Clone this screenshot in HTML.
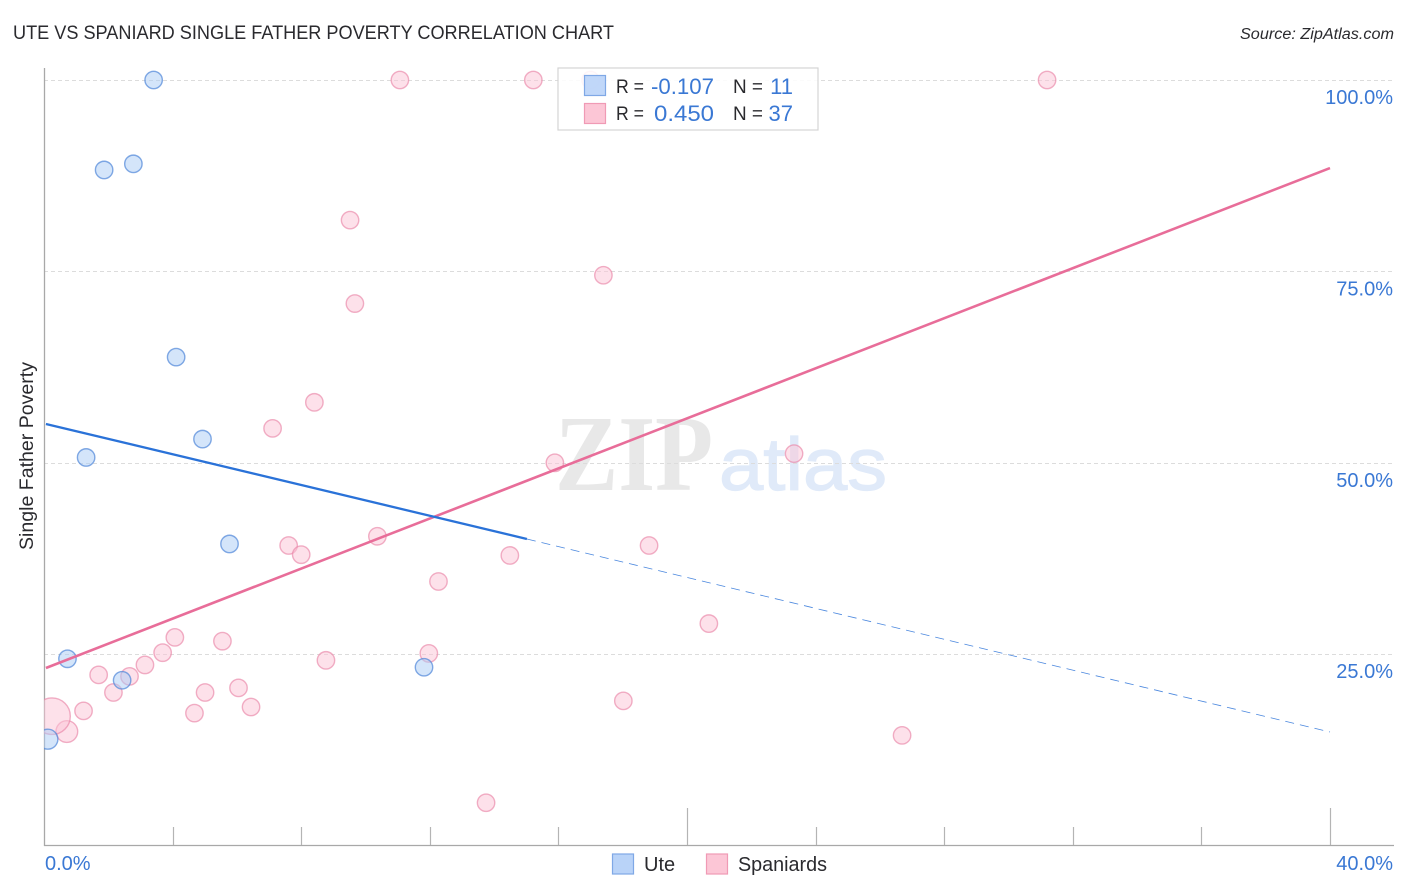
<!DOCTYPE html>
<html lang="en">
<head>
<meta charset="utf-8">
<title>Ute vs Spaniard Single Father Poverty Correlation Chart</title>
<style>
html,body{margin:0;padding:0;background:#fff;}
svg{display:block;font-family:"Liberation Sans",sans-serif;}
</style>
</head>
<body>
<svg id="chart" xmlns="http://www.w3.org/2000/svg" width="1406" height="892" viewBox="0 0 1406 892">
  <defs><clipPath id="plot-clip"><rect x="44" y="60" width="1350" height="786"/></clipPath></defs>
  <text x="13" y="39" font-size="19" fill="#2a2a2e" textLength="601" lengthAdjust="spacingAndGlyphs">UTE VS SPANIARD SINGLE FATHER POVERTY CORRELATION CHART</text>
  <text x="1394" y="39" font-size="15.5" font-style="italic" fill="#2a2a2e" text-anchor="end" textLength="154" lengthAdjust="spacingAndGlyphs">Source: ZipAtlas.com</text>
  <text x="555" y="490" font-family="'Liberation Serif',serif" font-size="108" font-weight="bold" fill="#e8e8e8" textLength="158" lengthAdjust="spacingAndGlyphs">ZIP</text>
  <text x="719" y="490" font-size="74" fill="#e0eaf9" stroke="#e0eaf9" stroke-width="1.2" textLength="168" lengthAdjust="spacingAndGlyphs">atlas</text>
  <g id="grid"></g>
  <g id="axes"></g>
  <g id="points" clip-path="url(#plot-clip)"></g>
  <g id="trends" clip-path="url(#plot-clip)"></g>
  <g id="labels"></g>
  <text transform="translate(33,456) rotate(-90)" font-size="19" fill="#2a2a2e" text-anchor="middle" textLength="188" lengthAdjust="spacingAndGlyphs">Single Father Poverty</text>

  <g>
    <rect x="558" y="68" width="260" height="62" fill="#fff" fill-opacity="0.88" stroke="#d4d4d4" stroke-width="1.2"/>
    <rect x="584.5" y="75.5" width="21" height="20" fill="#b9d3f8" fill-opacity="0.9" stroke="#7fa8e6" stroke-width="1.2"/>
    <rect x="584.5" y="103.5" width="21" height="20" fill="#fcc6d6" stroke="#f09ab5" stroke-width="1.2"/>
    <text x="616" y="93" font-size="19" fill="#2a2a2e" textLength="28" lengthAdjust="spacingAndGlyphs">R =</text>
    <text x="714" y="94" font-size="22" fill="#3a78d4" text-anchor="end" textLength="63" lengthAdjust="spacingAndGlyphs">-0.107</text>
    <text x="733" y="93" font-size="19" fill="#2a2a2e" textLength="30" lengthAdjust="spacingAndGlyphs">N =</text>
    <text x="793" y="94" font-size="22" fill="#3a78d4" text-anchor="end">11</text>
    <text x="616" y="120" font-size="19" fill="#2a2a2e" textLength="28" lengthAdjust="spacingAndGlyphs">R =</text>
    <text x="714" y="121" font-size="22" fill="#3a78d4" text-anchor="end" textLength="60" lengthAdjust="spacingAndGlyphs">0.450</text>
    <text x="733" y="120" font-size="19" fill="#2a2a2e" textLength="30" lengthAdjust="spacingAndGlyphs">N =</text>
    <text x="793" y="121" font-size="22" fill="#3a78d4" text-anchor="end">37</text>
  </g>

  <g>
    <rect x="612.5" y="854" width="21" height="20" fill="#b9d3f8" stroke="#7fa8e6" stroke-width="1.2"/>
    <text x="644" y="871" font-size="20" fill="#2a2a2e">Ute</text>
    <rect x="706.5" y="854" width="21" height="20" fill="#fcc6d6" stroke="#f09ab5" stroke-width="1.2"/>
    <text x="738" y="871" font-size="20" fill="#2a2a2e" textLength="89" lengthAdjust="spacingAndGlyphs">Spaniards</text>
  </g>
</svg>
<script>
const yTickValues = [25, 50, 75, 100];
const yTickLabels = ["25.0%", "50.0%", "75.0%", "100.0%"];
const xTickValues = [0, 4, 8, 12, 16, 20, 24, 28, 32, 36, 40];
const xEdgeValues = [0, 40];
const xEdgeLabels = ["0.0%", "40.0%"];

const uteX = [3.41, 1.87, 2.78, 4.11, 4.93, 1.31, 5.77, 0.73, 2.43, 11.82, 0.12];
const uteY = [100, 88.25, 89.05, 63.8, 53.1, 50.7, 39.4, 24.4, 21.6, 23.3, 13.9];
const uteSize = [1, 1, 1, 1, 1, 1, 1, 1, 1, 1, 1.15];

const spanX = [11.07, 15.22, 31.2, 9.52, 17.4, 9.67, 8.41, 7.11, 15.89, 23.33, 10.37, 7.61, 8.0, 18.82, 14.49, 12.27, 20.68, 4.07, 5.55, 3.69, 11.97, 8.77, 3.14, 1.7, 2.66, 6.05, 5.01, 2.16, 18.02, 6.44, 1.23, 4.68, 26.69, 0.71, 0.25, 13.75, 17.0];
const spanY = [100, 100, 100, 81.7, 74.5, 70.8, 57.9, 54.5, 50.0, 51.2, 40.4, 39.2, 38.0, 39.2, 37.9, 34.5, 29.0, 27.2, 26.7, 25.2, 25.1, 24.2, 23.6, 22.3, 22.1, 20.6, 20.0, 20.0, 18.9, 18.1, 17.6, 17.3, 14.4, 14.9, 16.9, 5.6, 100];
const spanSize = [1, 1, 1, 1, 1, 1, 1, 1, 1, 1, 1, 1, 1, 1, 1, 1, 1, 1, 1, 1, 1, 1, 1, 1, 1, 1, 1, 1, 1, 1, 1, 1, 1, 1.25, 2.1, 1, 1];

const uteTrendX = [0.06, 15.02, 40];
const uteTrendY = [55.07, 40.05, 14.84];
const spanTrendX = [0.06, 40];
const spanTrendY = [23.2, 88.5];

const NS = "http://www.w3.org/2000/svg";
function xScale(v) { return 44 + v * 32.15; }
function yScale(v) { return 845.6 - v * 7.656; }
function make(tag, attrs, parent) {
  const el = document.createElementNS(NS, tag);
  for (const k in attrs) el.setAttribute(k, attrs[k]);
  parent.appendChild(el);
  return el;
}
const grid = document.getElementById("grid");
const axes = document.getElementById("axes");
const points = document.getElementById("points");
const trends = document.getElementById("trends");
const labels = document.getElementById("labels");

yTickValues.forEach(function (v, i) {
  const y = Math.round(yScale(v)) + 0.5;
  const g = make("line", { x1: 44, x2: 1394, y1: y, y2: y, stroke: "#dcdcdc", "stroke-width": 1, "stroke-dasharray": "4 3" }, grid);
  
  
  const t = make("text", { x: 1393, y: yScale(v) + 24, "font-size": 20, fill: "#3a78d4", "text-anchor": "end" }, labels);
  t.textContent = yTickLabels[i];
  
  
});

const yAxisLine = make("line", { x1: 44.5, x2: 44.5, y1: 68, y2: 846, stroke: "#a8a8a8", "stroke-width": 1.3 }, axes);


const xAxisLine = make("line", { x1: 44, x2: 1394, y1: 845.5, y2: 845.5, stroke: "#a8a8a8", "stroke-width": 1.3 }, axes);



xTickValues.forEach(function (v, i) {
  if (v === 0) return;
  const x = Math.round(xScale(v)) + 0.5;
  const top = (i === 5 || i === 10) ? 808 : 827;
  const tick = make("line", { x1: x, x2: x, y1: top, y2: 845, stroke: "#b4b4b4", "stroke-width": 1.2 }, axes);
  
  
});

xEdgeValues.forEach(function (v, i) {
  const isLast = i === xEdgeValues.length - 1;
  const t = make("text", { x: isLast ? 1393 : xScale(v) + 1, y: 870, "font-size": 20, fill: "#3a78d4", "text-anchor": isLast ? "end" : "start" }, labels);
  t.textContent = xEdgeLabels[i];
  
  
});

spanX.forEach(function (v, i) {
  const c = make("circle", { cx: xScale(v), cy: yScale(spanY[i]), r: 8.7 * spanSize[i], fill: "#fbc3d5", "fill-opacity": 0.5, stroke: "#ea85a8", "stroke-opacity": 0.65, "stroke-width": 1.4 }, points);
  
  
});
uteX.forEach(function (v, i) {
  const c = make("circle", { cx: xScale(v), cy: yScale(uteY[i]), r: 8.7 * uteSize[i], fill: "#a9ccf5", "fill-opacity": 0.5, stroke: "#4f86d8", "stroke-opacity": 0.7, "stroke-width": 1.4 }, points);
  
  
});

const spanLine = make("line", { x1: xScale(spanTrendX[0]), y1: yScale(spanTrendY[0]), x2: xScale(spanTrendX[1]), y2: yScale(spanTrendY[1]), stroke: "#e86d99", "stroke-width": 2.6 }, trends);


const uteSolid = make("line", { x1: xScale(uteTrendX[0]), y1: yScale(uteTrendY[0]), x2: xScale(uteTrendX[1]), y2: yScale(uteTrendY[1]), stroke: "#2a72d8", "stroke-width": 2.3 }, trends);


const uteDash = make("line", { x1: xScale(uteTrendX[1]), y1: yScale(uteTrendY[1]), x2: xScale(uteTrendX[2]), y2: yScale(uteTrendY[2]), stroke: "#2a72d8", "stroke-width": 0.8, "stroke-opacity": 0.85, "stroke-dasharray": "9 6" }, trends);


</script>
</body>
</html>
